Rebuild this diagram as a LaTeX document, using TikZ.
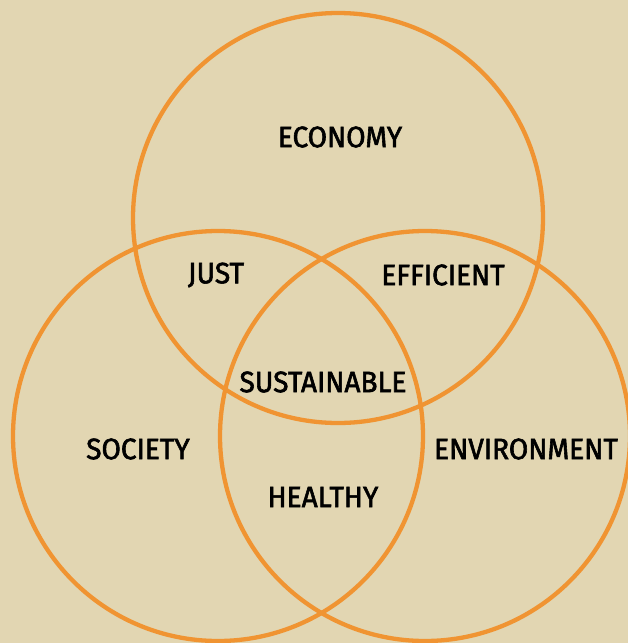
\documentclass[tikz,border=0pt]{standalone}
\usepackage{fontspec}
\setmainfont{Fira Sans}[FakeStretch=0.95,FakeBold=2]
\begin{document}
\begin{tikzpicture}[x=1pt,y=-1pt,
  ring/.style={circle, draw=ringorange, line width=4.3pt, inner sep=0pt, minimum size=410pt},
  label/.style={font=\fontsize{29.5}{31}\selectfont, text=black, inner sep=0pt, anchor=center}]
\definecolor{bgbeige}{HTML}{E2D6B2}
\definecolor{ringorange}{HTML}{F09432}
\fill[bgbeige] (0,0) rectangle (628,643);
\useasboundingbox (0,0) rectangle (628,643);
\node[ring] (econ) at (338,218) {};
\node[ring] (soc) at (218,436) {};
\node[ring] (env) at (425,436) {};
\node[label] (teconomy) at (340,137) {ECONOMY};
\node[label] (tjust) at (216,275) {JUST};
\node[label] (tefficient) at (443,275) {EFFICIENT};
\node[label] (tsustainable) at (323,382) {SUSTAINABLE};
\node[label] (tsociety) at (138,449) {SOCIETY};
\node[label] (tenvironment) at (526,449) {ENVIRONMENT};
\node[label] (thealthy) at (323,497) {HEALTHY};
\end{tikzpicture}
\end{document}
